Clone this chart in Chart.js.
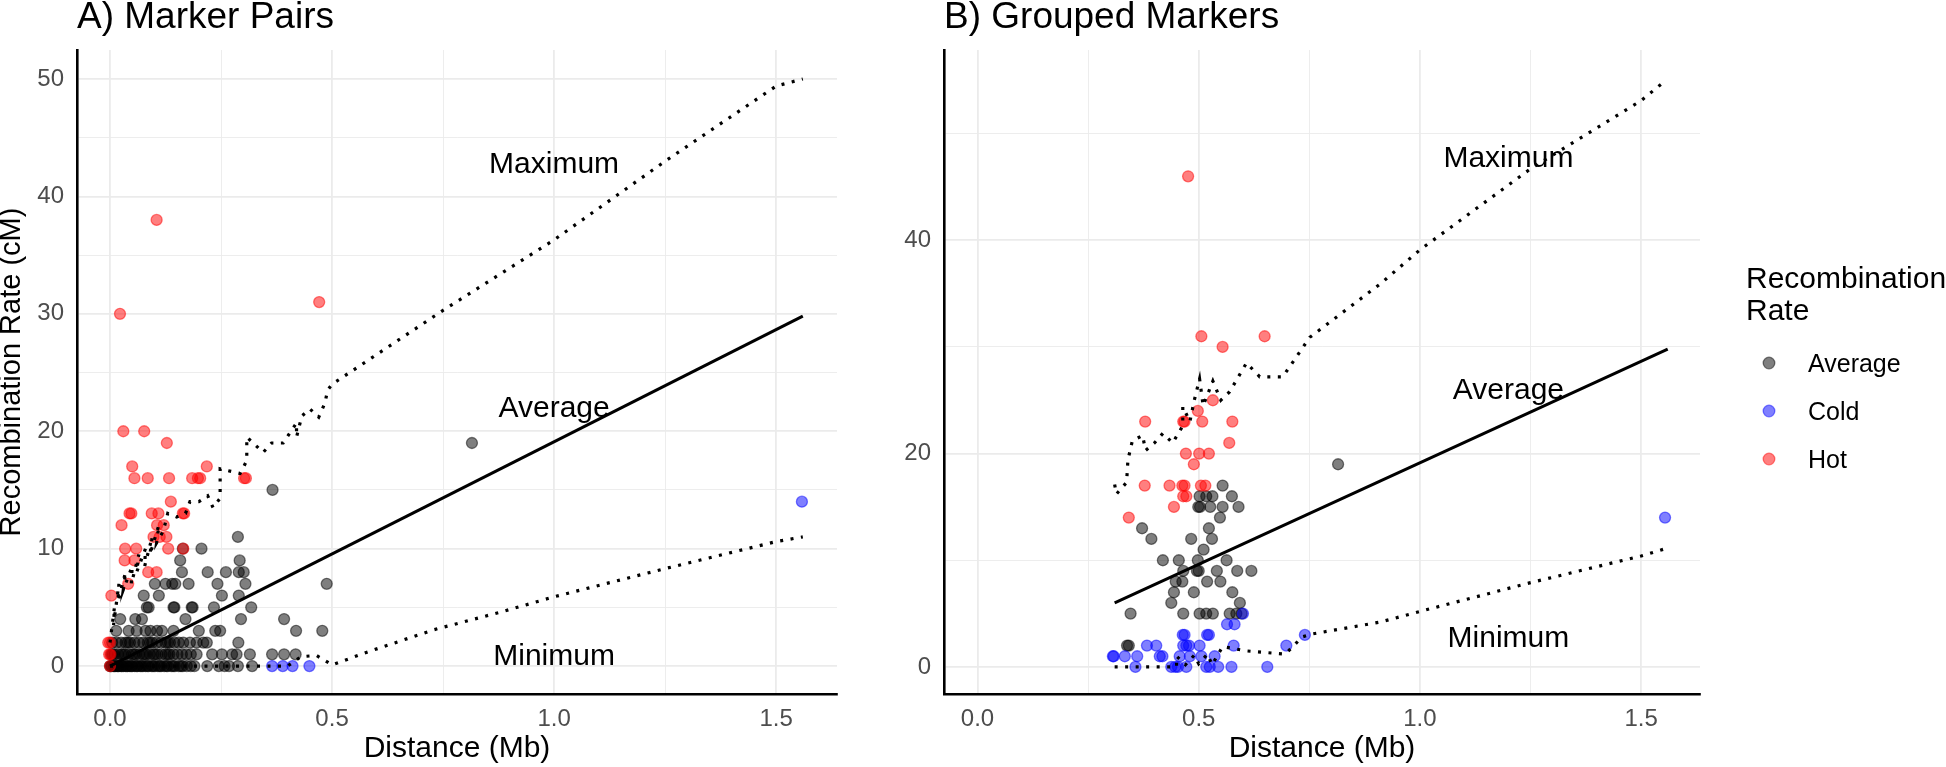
<!DOCTYPE html>
<html>
<head>
<meta charset="utf-8">
<script src="https://cdn.jsdelivr.net/npm/chart.js@4.4.1/dist/chart.umd.min.js"></script>
<style>
  html, body { margin: 0; padding: 0; background: #fff; }
  #wrapA { position: absolute; left: 0; top: 0; width: 860px; height: 767px; }
  #wrapB { position: absolute; left: 880px; top: 0; width: 1066px; height: 767px; }
</style>
</head>
<body>
<div id="wrapA"><canvas id="chartA"></canvas></div>
<div id="wrapB"><canvas id="chartB"></canvas></div>
<script>
// ---- data ----
const categories = ['Average', 'Cold', 'Hot'];
const xTicks = [0, 0.25, 0.5, 0.75, 1, 1.25, 1.5];
const xMajor = [0, 0.5, 1, 1.5];
const yTicksA = [0, 5, 10, 15, 20, 25, 30, 35, 40, 45, 50];
const yTicksB = [0, 10, 20, 30, 40, 50];

// A) Marker Pairs
const aAvg = [
  [0.000,0],[0.002,0],[0.004,0],[0.008,0],[0.010,0],[0.012,0],[0.016,0],[0.018,0],[0.020,0],[0.025,0],
  [0.027,0],[0.030,0],[0.035,0],[0.038,0],[0.040,0],[0.045,0],[0.048,0],[0.050,0],[0.056,0],[0.060,0],
  [0.062,0],[0.068,0],[0.071,0],[0.074,0],[0.080,0],[0.084,0],[0.087,0],[0.094,0],[0.097,0],[0.101,0],
  [0.108,0],[0.112,0],[0.115,0],[0.122,0],[0.127,0],[0.130,0],[0.138,0],[0.142,0],[0.146,0],[0.155,0],
  [0.160,0],[0.164,0],[0.173,0],[0.182,0],[0.190,0],[0.219,0],[0.245,0],[0.258,0],[0.268,0],[0.288,0],[0.320,0],
  [0.003,1],[0.006,1],[0.010,1],[0.018,1],[0.026,1],[0.030,1],[0.034,1],[0.042,1],[0.050,1],[0.054,1],
  [0.058,1],[0.066,1],[0.074,1],[0.078,1],[0.082,1],[0.090,1],[0.098,1],[0.102,1],[0.107,1],[0.116,1],
  [0.125,1],[0.130,1],[0.134,1],[0.143,1],[0.152,1],[0.162,1],[0.172,1],[0.182,1],[0.195,1],[0.230,1],
  [0.252,1],[0.275,1],[0.285,1],[0.315,1],[0.365,1],[0.392,1],[0.418,1],
  [0.005,2],[0.015,2],[0.025,2],[0.035,2],[0.040,2],[0.045,2],[0.055,2],[0.065,2],[0.075,2],[0.085,2],
  [0.090,2],[0.095,2],[0.105,2],[0.115,2],[0.125,2],[0.130,2],[0.135,2],[0.145,2],[0.155,2],[0.165,2],
  [0.180,2],[0.195,2],[0.210,2],[0.218,2],[0.289,2],
  [0.014,3],[0.042,3],[0.060,3],[0.080,3],[0.091,3],[0.106,3],[0.117,3],[0.143,3],[0.200,3],[0.237,3],
  [0.248,3],[0.419,3],[0.478,3],
  [0.023,4],[0.057,4],[0.072,4],[0.170,4],[0.295,4],[0.392,4],
  [0.083,5],[0.087,5],[0.143,5],[0.145,5],[0.184,5],[0.186,5],[0.234,5],[0.318,5],
  [0.076,6],[0.110,6],[0.252,6],[0.290,6],
  [0.101,7],[0.125,7],[0.140,7],[0.147,7],[0.177,7],[0.242,7],[0.305,7],[0.488,7],
  [0.162,8],[0.220,8],[0.261,8],[0.290,8],[0.301,8],
  [0.158,9],[0.292,9],[0.164,10],[0.206,10],[0.288,11],[0.366,15],[0.815,19]
];
const aCold = [[0.365,0],[0.389,0],[0.411,0],[0.449,0],[1.558,14]];
const aHot = [
  [0.0225,30],[0.105,38],[0.471,31],[0.030,20],[0.077,20],[0.128,19],[0.050,17],[0.218,17],
  [0.055,16],[0.085,16],[0.133,16],[0.185,16],[0.198,16],[0.203,16],[0.302,16],[0.306,16],
  [0.137,14],[0.044,13],[0.048,13],[0.094,13],[0.109,13],[0.164,13],[0.167,13],
  [0.026,12],[0.106,12],[0.121,12],[0.098,11],[0.112,11],[0.127,11],
  [0.034,10],[0.059,10],[0.131,10],[0.165,10],[0.033,9],[0.055,9],[0.086,8],[0.105,8],
  [0.041,7],[0.003,6],[-0.004,2],[0.000,2],[-0.002,1],[0.001,1],[0.000,0]
];
const aMax = [
  [0.0,2],[0.01,5],[0.008,3.5],[0.02,7],[0.018,5.5],[0.035,8],[0.03,6.5],[0.05,8.5],[0.048,7],
  [0.065,9.5],[0.06,8],[0.08,10],[0.078,8.5],[0.095,11],[0.09,9.5],[0.11,12],[0.105,10.5],
  [0.12,11.5],[0.13,13],[0.15,12.7],[0.17,13],[0.18,14],[0.2,14],[0.22,14.5],[0.232,13.5],
  [0.248,14.3],[0.248,16.8],[0.293,16.4],[0.308,17.5],[0.308,19.5],[0.345,18.2],[0.364,19],
  [0.39,19],[0.42,20.7],[0.42,19.5],[0.432,21.3],[0.45,21.9],[0.47,21.2],[0.484,22.4],
  [0.49,23.5],[0.5,24],[0.75,30.3],[1.0,36.3],[1.25,43],[1.5,49.4],[1.56,50]
];
const aMean = [[0.0,0],[1.56,29.8]];
const aMin = [
  [0.0,0],[0.4,0],[0.43,0.8],[0.465,0.9],[0.5,0.1],[0.58,1.2],[0.73,3.1],[0.88,4.6],
  [1.0,5.9],[1.25,8.3],[1.5,10.6],[1.56,11.0]
];

// B) Grouped Markers
const bAvg = [
  [0.815,19],[0.554,17],[0.502,16],[0.517,16],[0.531,16],[0.575,16],[0.499,15],[0.503,15],[0.526,15],
  [0.554,15],[0.590,15],[0.548,14],[0.372,13],[0.523,13],[0.393,12],[0.483,12],[0.530,12],[0.511,11],
  [0.419,10],[0.455,10],[0.498,10],[0.563,10],[0.465,9],[0.496,9],[0.500,9],[0.541,9],[0.587,9],
  [0.619,9],[0.448,8],[0.463,8],[0.519,8],[0.549,8],[0.444,7],[0.489,7],[0.576,7],[0.438,6],
  [0.593,6],[0.346,5],[0.465,5],[0.502,5],[0.517,5],[0.532,5],[0.570,5],[0.585,5],[0.597,5],
  [0.338,2],[0.342,2]
];
const bCold = [
  [1.554,14],[0.600,5],[0.564,4],[0.581,4],[0.464,3],[0.468,3],[0.519,3],[0.523,3],[0.740,3],
  [0.383,2],[0.404,2],[0.465,2],[0.472,2],[0.478,2],[0.502,2],[0.579,2],[0.698,2],
  [0.306,1],[0.308,1],[0.333,1],[0.361,1],[0.412,1],[0.418,1],[0.457,1],[0.480,1],[0.506,1],[0.536,1],
  [0.357,0],[0.438,0],[0.447,0],[0.453,0],[0.472,0],[0.517,0],[0.525,0],[0.544,0],[0.574,0],[0.655,0]
];
const bHot = [
  [0.476,46],[0.506,31],[0.649,31],[0.554,30],[0.532,25],[0.498,24],[0.379,23],[0.465,23],[0.468,23],
  [0.508,23],[0.576,23],[0.569,21],[0.471,20],[0.501,20],[0.523,20],[0.489,19],[0.378,17],[0.434,17],
  [0.463,17],[0.468,17],[0.505,17],[0.515,17],[0.465,16],[0.472,16],[0.444,15],[0.342,14]
];
const bMax = [
  [0.31,17.1],[0.314,16.2],[0.337,17.3],[0.34,19.4],[0.35,21.2],[0.373,21.7],[0.38,20.3],[0.4,21],
  [0.419,21.9],[0.441,21],[0.464,22.6],[0.464,24.4],[0.48,23],[0.49,25],[0.502,27],[0.51,24.5],
  [0.532,26.8],[0.55,25],[0.57,25.8],[0.608,28.5],[0.638,27.2],[0.69,27.2],[0.751,30.9],
  [0.91,35.9],[1.0,39.1],[1.25,46.7],[1.5,53.1],[1.556,55]
];
const bMean = [[0.31,6.0],[1.56,29.8]];
const bMin = [
  [0.31,0],[0.45,0],[0.45,1],[0.47,0.2],[0.49,1.1],[0.5,0.3],[0.52,1.2],[0.53,0.2],[0.554,1.9],
  [0.608,1.5],[0.695,1.2],[0.713,1.9],[0.733,2.8],[0.758,3.1],[0.91,4.2],[1.0,5.2],[1.25,7.9],
  [1.5,10.4],[1.556,11.1]
];

// text labels inside the panels: [text, x, y(baseline)]
const notesA = [['Maximum', 1.0, 42.0], ['Average', 1.0, 21.2], ['Minimum', 1.0, 0.1]];
const notesB = [['Maximum', 1.2, 46.9], ['Average', 1.2, 25.1], ['Minimum', 1.2, 1.9]];

// ---- styling ----
const FONT = '"Liberation Sans", Arial, Helvetica, sans-serif';
const fills = ['rgba(0,0,0,0.5)', 'rgba(0,0,255,0.5)', 'rgba(255,0,0,0.5)'];
const edges = ['rgba(0,0,0,0.5)', 'rgba(0,0,255,0.5)', 'rgba(255,0,0,0.5)'];

const toXY = arr => arr.map(p => ({ x: p[0], y: p[1] }));

function lineSet(pts, dotted) {
  return {
    data: toXY(pts), showLine: true, pointRadius: 0, borderColor: '#000',
    borderWidth: dotted ? 3.2 : 3, borderDash: dotted ? [3, 7.5] : [],
    borderCapStyle: 'butt', tension: 0, fill: false
  };
}
function pointSet(pts, i) {
  return {
    label: categories[i], data: toXY(pts), pointRadius: 5.5,
    pointBackgroundColor: fills[i], pointBorderColor: edges[i], pointBorderWidth: 1.3,
    backgroundColor: fills[i], borderColor: edges[i], showLine: false
  };
}

const panelText = {
  id: 'panelText',
  afterDatasetsDraw(chart, args, o) {
    const { ctx, chartArea, scales } = chart;
    ctx.save();
    ctx.fillStyle = '#000';
    ctx.font = '37px ' + FONT;
    ctx.textAlign = 'left';
    ctx.textBaseline = 'alphabetic';
    ctx.fillText(o.title, chartArea.left, 28);
    ctx.font = '30px ' + FONT;
    ctx.textAlign = 'center';
    o.notes.forEach(n => {
      ctx.fillText(n[0], scales.x.getPixelForValue(n[1]), scales.y.getPixelForValue(n[2]));
    });
    if (o.legend) {
      ctx.textAlign = 'left';
      ctx.font = '30px ' + FONT;
      ctx.fillText('Recombination', 866, 288);
      ctx.fillText('Rate', 866, 320);
      ctx.font = '25px ' + FONT;
      categories.forEach((c, i) => {
        const cy = 363 + i * 48;
        ctx.beginPath();
        ctx.arc(889, cy, 5.8, 0, Math.PI * 2);
        ctx.fillStyle = fills[i];
        ctx.fill();
        ctx.lineWidth = 1.3;
        ctx.strokeStyle = edges[i];
        ctx.stroke();
        ctx.fillStyle = '#000';
        ctx.fillText(c, 928, cy + 9);
      });
    }
    ctx.restore();
  }
};

function makeChart(id, cfg) {
  const yMajorStep = cfg.yMajorStep;
  return new Chart(document.getElementById(id), {
    type: 'scatter',
    data: { datasets: cfg.datasets },
    options: {
      responsive: true, maintainAspectRatio: false, animation: false,
      events: [],
      layout: { padding: { left: 0, top: 50, right: cfg.rightPad, bottom: 0 } },
      plugins: { legend: { display: false }, tooltip: { enabled: false }, panelText: cfg.text },
      scales: {
        x: {
          type: 'linear', min: cfg.xMin, max: cfg.xMax,
          afterBuildTicks: s => { s.ticks = xTicks.map(v => ({ value: v })); },
          afterFit: s => { s.height = 73; },
          ticks: {
            padding: 11, color: '#4d4d4d', font: { family: FONT, size: 24 },
            autoSkip: false, maxRotation: 0,
            callback: v => xMajor.includes(v) ? v.toFixed(1) : ''
          },
          grid: {
            drawTicks: false, color: '#ebebeb',
            lineWidth: c => (c.tick && xMajor.includes(c.tick.value)) ? 1.8 : 0.9
          },
          border: { display: true, color: '#000', width: 2.6 },
          title: {
            display: true, text: 'Distance (Mb)', color: '#000',
            font: { family: FONT, size: 30, lineHeight: 1 }, padding: { top: 0, bottom: 3 }
          }
        },
        y: {
          type: 'linear', min: cfg.yMin, max: cfg.yMax,
          afterBuildTicks: s => { s.ticks = cfg.yTicks.map(v => ({ value: v })); },
          afterFit: s => { s.width = cfg.yWidth; },
          ticks: {
            padding: 13, color: '#4d4d4d', font: { family: FONT, size: 24 }, autoSkip: false,
            callback: v => v % yMajorStep === 0 ? String(v) : ''
          },
          grid: {
            drawTicks: false, color: '#ebebeb',
            lineWidth: c => (c.tick && c.tick.value % yMajorStep === 0) ? 1.8 : 0.9
          },
          border: { display: true, color: '#000', width: 2.6 },
          title: {
            display: cfg.yTitle, text: 'Recombination Rate (cM)', color: '#000',
            font: { family: FONT, size: 29, lineHeight: 0.8 }, padding: 0
          }
        }
      }
    },
    plugins: [panelText]
  });
}

makeChart('chartA', {
  datasets: [
    lineSet(aMax, true), lineSet(aMean, false), lineSet(aMin, true),
    pointSet(aHot, 2), pointSet(aCold, 1), pointSet(aAvg, 0)
  ],
  xMin: -0.0743, xMax: 1.637, yMin: -2.38, yMax: 52.47,
  yTicks: yTicksA, yMajorStep: 10, yWidth: 77, yTitle: true, rightPad: 23,
  text: { title: 'A) Marker Pairs', notes: notesA, legend: false }
});

makeChart('chartB', {
  datasets: [
    lineSet(bMax, true), lineSet(bMean, false), lineSet(bMin, true),
    pointSet(bHot, 2), pointSet(bCold, 1), pointSet(bAvg, 0)
  ],
  xMin: -0.0757, xMax: 1.633, yMin: -2.54, yMax: 57.84,
  yTicks: yTicksB, yMajorStep: 20, yWidth: 64, yTitle: false, rightPad: 246,
  text: { title: 'B) Grouped Markers', notes: notesB, legend: true }
});
</script>
</body>
</html>
